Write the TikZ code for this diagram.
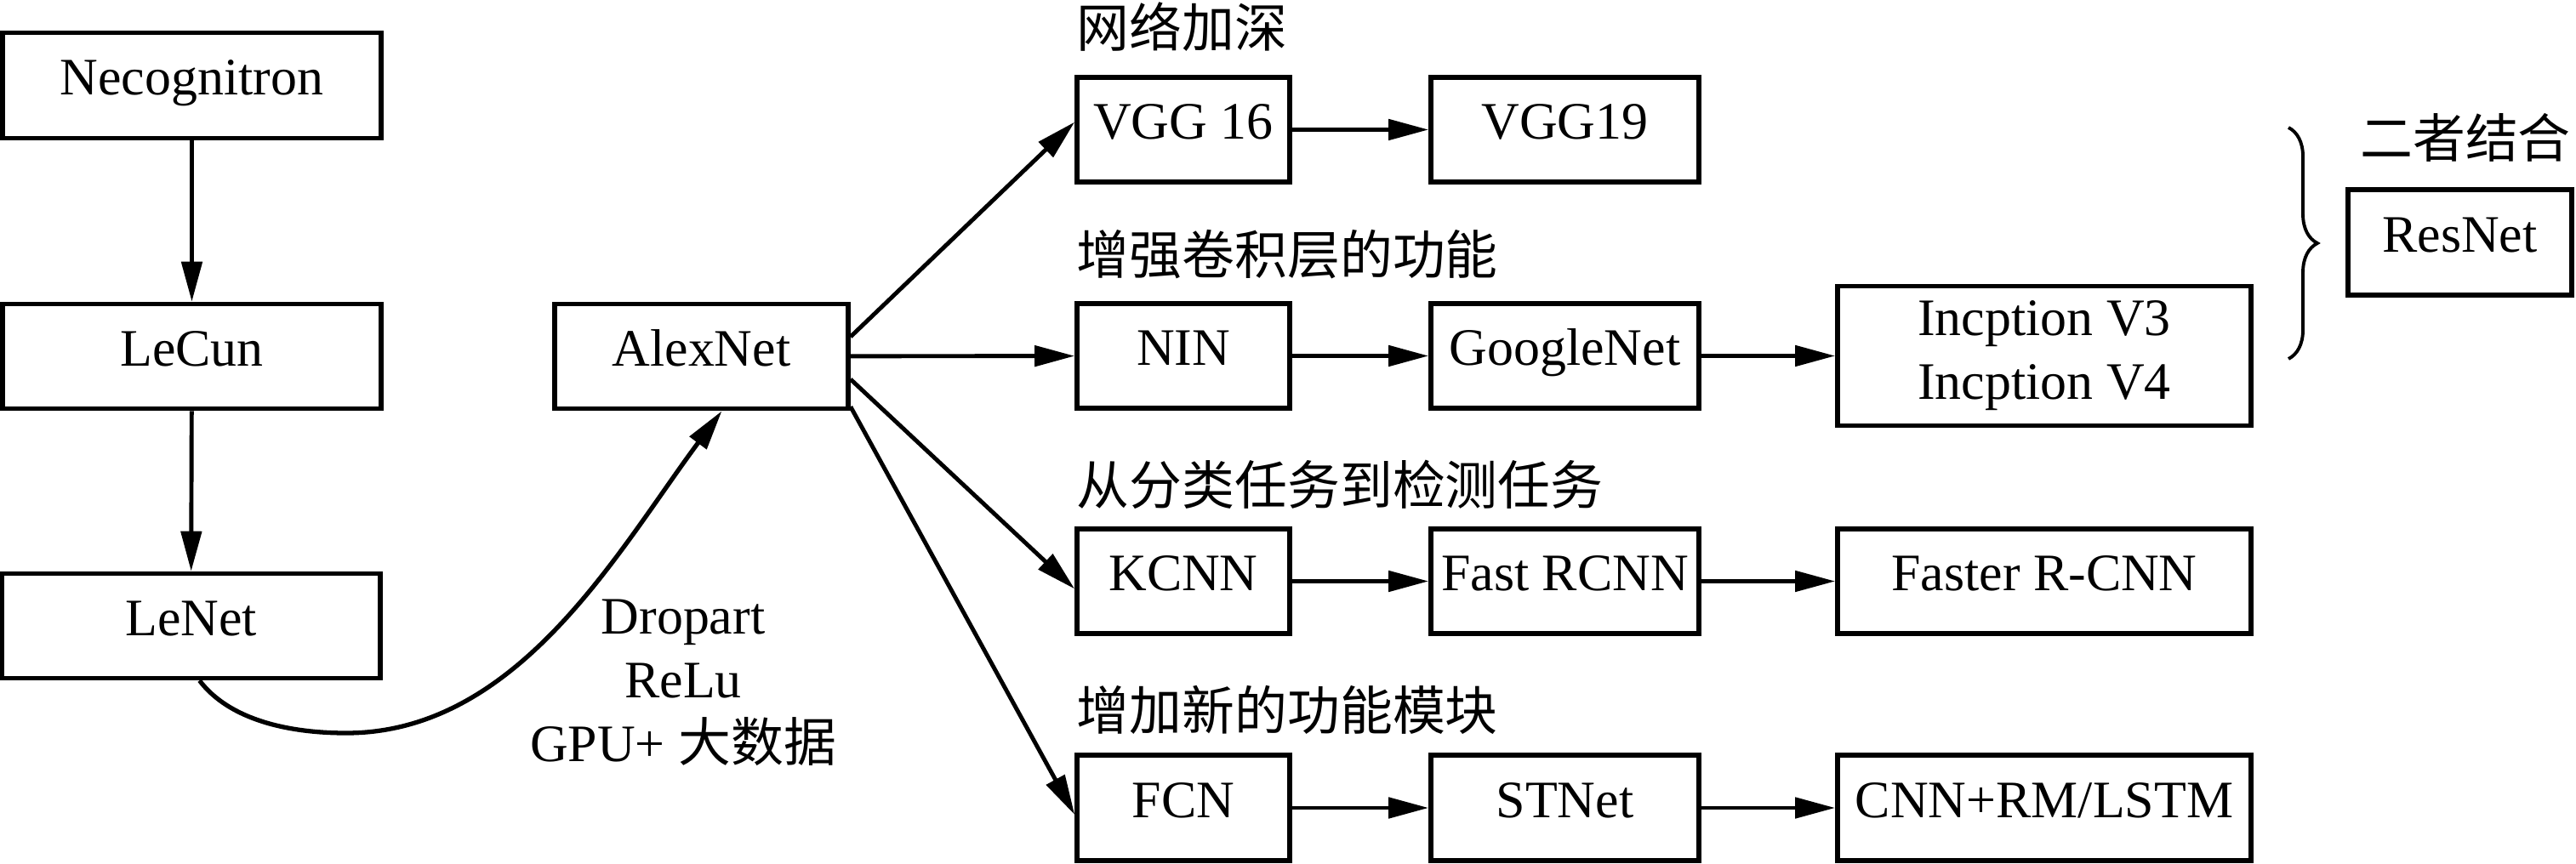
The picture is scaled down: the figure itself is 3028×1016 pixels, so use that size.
\documentclass[tikz,border=0pt]{standalone}
\usepackage{fontspec}
\setmainfont{Liberation Serif}
\newfontfamily\cjk{Noto Sans CJK SC}
\usetikzlibrary{arrows.meta,decorations.pathreplacing}
\begin{document}
\begin{tikzpicture}[x=0.01cm,y=-0.01cm,
  font=\fontsize{17.6pt}{21.34pt}\selectfont,
  bx/.style={draw,line width=1.55pt,rectangle,inner sep=0pt,minimum height=1.23cm},
  one/.style={bx,text height=0.86em,text depth=0.22em},
  lab/.style={font=\fontsize{17.6pt}{21.34pt}\selectfont\cjk,inner sep=0pt,anchor=west},
  arr/.style={line width=1.4pt,-{Triangle[length=0.47cm,width=0.24cm]}}]
\useasboundingbox (0,0) rectangle (3028,1016);
% left column
\node[one,minimum width=4.45cm,minimum height=1.24cm] (necog) at (225.5,100.5) {Necognitron};
\node[one,minimum width=4.45cm] (lecun) at (225.5,419) {LeCun};
\node[one,minimum width=4.45cm] (lenet) at (224.5,736) {LeNet};
\node[one,minimum width=3.45cm] (alex) at (824.5,419) {AlexNet};
% rows
\node[one,minimum width=2.50cm] (vgg16) at (1391,152.5) {VGG 16};
\node[one,minimum width=3.15cm] (vgg19) at (1839.5,152.5) {VGG19};
\node[one,minimum width=2.50cm] (nin) at (1391,418.5) {NIN};
\node[one,minimum width=3.15cm] (goog) at (1839.5,418.5) {GoogleNet};
\node[bx,align=center,minimum width=4.86cm,minimum height=1.64cm] (incep) at (2403,418.5) {Incption V3\\Incption V4};
\node[one,minimum width=2.63cm,minimum height=1.24cm] (resnet) at (2891.5,285) {ResNet};
\node[one,minimum width=2.50cm] (kcnn) at (1391,683.5) {KCNN};
\node[one,minimum width=3.15cm] (frcnn) at (1839.5,683.5) {Fast RCNN};
\node[one,minimum width=4.86cm] (fasterrcnn) at (2403,683.5) {Faster R-CNN};
\node[one,minimum width=2.50cm,minimum height=1.24cm] (fcn) at (1391,950) {FCN};
\node[one,minimum width=3.15cm,minimum height=1.24cm] (stnet) at (1839.5,950) {STNet};
\node[one,minimum width=4.86cm,minimum height=1.24cm] (cnnrm) at (2403,950) {CNN+RM/LSTM};
% labels
\node[lab] (l1) at (1265,32) {网络加深};
\node[lab] (l2) at (1265,299) {增强卷积层的功能};
\node[lab] (l3) at (1265,570) {从分类任务到检测任务};
\node[lab] (l4) at (1265,835) {增加新的功能模块};
\node[lab,anchor=center] (l5) at (2898,162) {二者结合};
\node[inner sep=0pt,align=center] (dl) at (803,803) {Dropart\\ReLu\\GPU+ {\cjk 大数据}};
% connectors
\draw[arr] (necog) -- (lecun);
\draw[arr] (lecun) -- (lenet);
\draw[arr,line width=1.5pt] ([xshift=0.1cm]lenet.south) .. controls (270,847) and (340,862) .. (407,862)
  .. controls (610,862) and (728,645) .. ([xshift=0.24cm]alex.south);
\draw[arr] ([yshift=0.23cm]alex.east) -- ([yshift=0.09cm]vgg16.west);
\draw[arr] (alex) -- (nin);
\draw[arr] ([yshift=-0.27cm]alex.east) -- ([yshift=-0.09cm]kcnn.west);
\draw[arr] ([yshift=0.05cm]alex.south east) -- ([yshift=-0.08cm]fcn.west);
\draw[arr] (vgg16) -- (vgg19);
\draw[arr] (nin) -- (goog);
\draw[arr] (goog) -- (incep);
\draw[arr] (kcnn) -- (frcnn);
\draw[arr] (frcnn) -- (fasterrcnn);
\draw[arr] (fcn) -- (stnet);
\draw[arr] (stnet) -- (cnnrm);
% brace
\coordinate (bt) at (2690,150);
\coordinate (bb) at (2690,422);
\draw[line width=1.1pt,decorate,decoration={brace,amplitude=0.34cm}] (bt) -- (bb);
\end{tikzpicture}
\end{document}
